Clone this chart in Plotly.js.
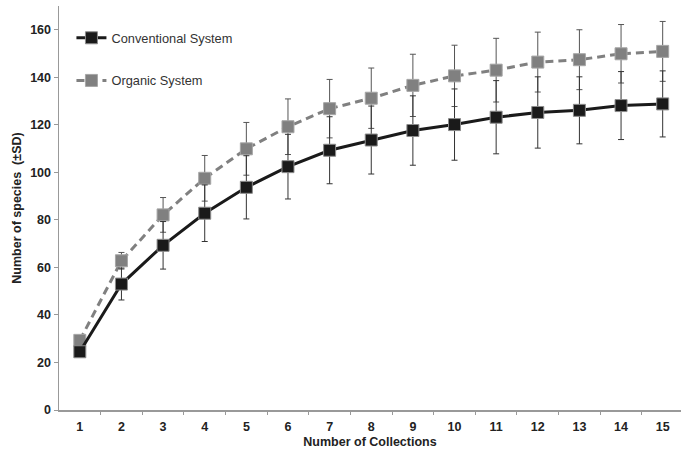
<!DOCTYPE html>
<html>
<head>
<meta charset="utf-8">
<script src="https://cdn.plot.ly/plotly-3.0.1.min.js"></script>
<style>html,body{margin:0;padding:0;background:#fff;} #chart{width:681px;height:453px;}</style>
</head>
<body>
<div id="chart"></div>
<script>
const collections = [1,2,3,4,5,6,7,8,9,10,11,12,13,14,15];
const conventional = [24.5, 53.0, 69.3, 82.8, 93.7, 102.4, 109.3, 113.6, 117.6, 120.1, 123.2, 125.2, 126.1, 128.1, 128.8];
const conventionalSD = [2.0, 6.7, 10.0, 11.9, 13.3, 13.6, 14.1, 14.3, 14.6, 15.0, 15.4, 15.0, 14.1, 14.3, 13.9];
const organic = [29.3, 62.8, 82.1, 97.5, 109.9, 119.2, 126.8, 131.2, 136.6, 140.6, 143.0, 146.4, 147.4, 149.9, 150.9];
const organicSD = [2.0, 3.5, 7.3, 9.6, 11.1, 11.7, 12.3, 12.7, 13.1, 12.9, 13.4, 12.6, 12.6, 12.3, 12.6];
const yTicks = [0,20,40,60,80,100,120,140,160];

const font = "Liberation Sans, Arial, sans-serif";

const traces = [
  {
    x: collections, y: organic, name: 'Organic System', type: 'scatter', mode: 'lines+markers',
    legendgroup: 'o', legendrank: 2,
    line: {color: '#808080', width: 3, dash: '8px,5px'},
    marker: {symbol: 'square', size: 12, color: '#808080', line: {color: '#a6a6a6', width: 1}},
    error_y: {type: 'data', array: organicSD, visible: true, color: '#555555', thickness: 1, width: 3}
  },
  {
    x: collections, y: conventional, name: 'Conventional System', type: 'scatter', mode: 'lines+markers',
    legendgroup: 'c', legendrank: 1,
    line: {color: '#1a1a1a', width: 3},
    marker: {symbol: 'square', size: 12, color: '#1a1a1a', line: {color: '#8c8c8c', width: 1}},
    error_y: {type: 'data', array: conventionalSD, visible: true, color: '#333333', thickness: 1, width: 3}
  }
];

const layout = {
  width: 681, height: 453,
  margin: {l: 59, r: 0, t: 6, b: 43},
  paper_bgcolor: '#ffffff', plot_bgcolor: '#ffffff',
  font: {family: font, color: '#222222'},
  showlegend: true,
  legend: {
    x: 0.02, y: 0.958, xanchor: 'left', yanchor: 'top',
    traceorder: 'grouped', tracegroupgap: 23,
    font: {family: font, size: 12.8, color: '#333333'},
    bgcolor: 'rgba(0,0,0,0)'
  },
  xaxis: {
    range: [0.5, 15.44], tickvals: collections, ticktext: collections.map(String),
    showgrid: false, zeroline: false, showline: true, linecolor: '#999999', linewidth: 1.5,
    ticks: '', ticklabelstandoff: 4,
    tickfont: {family: font, size: 12.5, color: '#222222', weight: 'bold'},
    title: {text: '<b>Number of Collections</b>', font: {family: font, size: 12.5, color: '#222222'}, standoff: 4}
  },
  xaxis2: {
    overlaying: 'x', matches: 'x', range: [0.5, 15.44],
    tickvals: collections.map(v => v + 0.5), showticklabels: false,
    ticks: 'outside', ticklen: 4, tickcolor: '#999999', tickwidth: 1,
    showgrid: false, zeroline: false, showline: false, anchor: 'y'
  },
  yaxis: {
    range: [0, 170], tickvals: yTicks,
    showgrid: false, zeroline: false, showline: true, linecolor: '#999999', linewidth: 1.5,
    ticks: 'outside', ticklen: 4, tickcolor: '#999999',
    tickfont: {family: font, size: 12.5, color: '#222222', weight: 'bold'},
    title: {text: '<b>Number of species  (±SD)</b>', font: {family: font, size: 12.5, color: '#222222'}, standoff: 6}
  }
};

// invisible helper trace so the boundary tick marks of xaxis2 are drawn
traces.unshift({x: [collections[0]], y: [0], xaxis: 'x2', yaxis: 'y', mode: 'markers',
  marker: {opacity: 0}, showlegend: false, hoverinfo: 'skip'});

Plotly.newPlot('chart', traces, layout, {displayModeBar: false, staticPlot: true});
</script>
</body>
</html>
